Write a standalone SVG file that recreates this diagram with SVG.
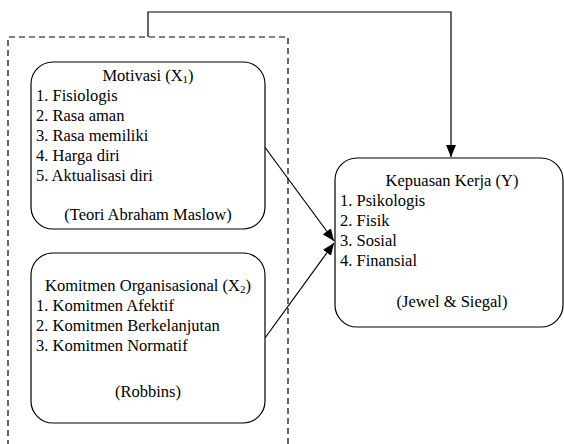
<svg xmlns="http://www.w3.org/2000/svg" width="564" height="444" viewBox="0 0 564 444">
<defs>
<style>
.box{fill:#fff;stroke:#000;stroke-width:1.2}
.con{fill:none;stroke:#000;stroke-width:1.2}
.dash{fill:none;stroke:#000;stroke-width:1.2;stroke-dasharray:6,4}
</style>
<marker id="ah" viewBox="0 0 12 10" refX="12" refY="5" markerWidth="12" markerHeight="10" markerUnits="userSpaceOnUse" orient="auto">
<path d="M0,0 L12,5 L0,10 Z" fill="#000"/>
</marker>
</defs>
<rect width="564" height="444" fill="#fff"/>
<g id="group-x">
<path class="dash" d="M8,446 V37 H288 V446"/>
</g>
<g id="connectors">
<path class="con" d="M148,37 V12 H451 V157" marker-end="url(#ah)"/>
<path class="con" d="M264,146 L334,241" marker-end="url(#ah)"/>
<path class="con" d="M265,338 L334,243" marker-end="url(#ah)"/>
</g>
<g font-family="'Liberation Serif', 'Times New Roman', 'DejaVu Serif', serif" font-size="16.5" fill="#000">
<g id="motivasi">
<rect class="box" x="31" y="62" width="234" height="167" rx="22"/>
<text x="148" y="81" text-anchor="middle">Motivasi (X<tspan font-size="11" dy="2">1</tspan><tspan dy="-2">)</tspan></text>
<text x="36" y="101">1. Fisiologis</text>
<text x="36" y="121">2. Rasa aman</text>
<text x="36" y="141">3. Rasa memiliki</text>
<text x="36" y="161">4. Harga diri</text>
<text x="36" y="181">5. Aktualisasi diri</text>
<text x="148" y="220" text-anchor="middle">(Teori Abraham Maslow)</text>
</g>
<g id="komitmen">
<rect class="box" x="31" y="253" width="234" height="170" rx="22"/>
<text x="148" y="291" text-anchor="middle">Komitmen Organisasional (X<tspan font-size="11" dy="2">2</tspan><tspan dy="-2">)</tspan></text>
<text x="36" y="311">1. Komitmen Afektif</text>
<text x="36" y="331">2. Komitmen Berkelanjutan</text>
<text x="36" y="351">3. Komitmen Normatif</text>
<text x="148" y="397" text-anchor="middle">(Robbins)</text>
</g>
<g id="kepuasan">
<rect class="box" x="335" y="158" width="228" height="169" rx="22"/>
<text x="452" y="186" text-anchor="middle">Kepuasan Kerja (Y)</text>
<text x="340" y="206">1. Psikologis</text>
<text x="340" y="226">2. Fisik</text>
<text x="340" y="246">3. Sosial</text>
<text x="340" y="266">4. Finansial</text>
<text x="452" y="307" text-anchor="middle">(Jewel &amp; Siegal)</text>
</g>
</g>
</svg>
